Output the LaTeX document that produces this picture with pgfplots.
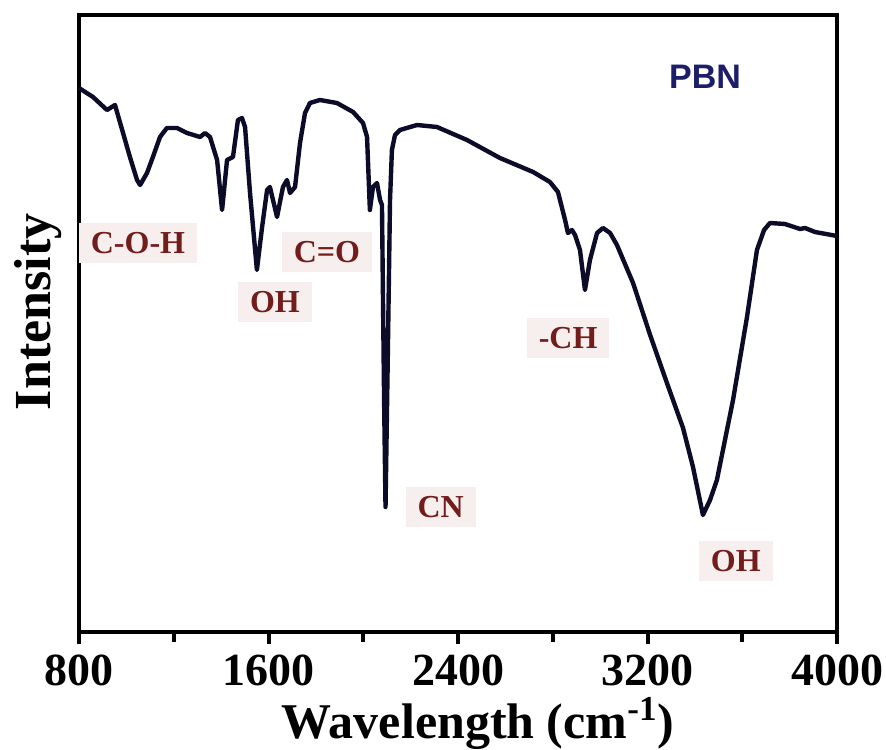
\documentclass[border=0pt]{standalone}
\usepackage{fontspec}
\setmainfont{Liberation Serif}
\newfontfamily\pbnfont{Liberation Sans}
\usepackage{pgfplots}
\pgfplotsset{compat=1.18}
\definecolor{curve}{RGB}{12,12,40}
\definecolor{lblred}{RGB}{115,28,28}
\definecolor{lblbg}{RGB}{247,238,238}
\definecolor{navy}{RGB}{28,30,105}
\begin{document}
\begin{tikzpicture}
\path[use as bounding box] (-39.5pt,-58.5pt) rectangle (403.5pt,316pt);
\begin{axis}[
  at={(0,0)}, anchor=south west,
  scale only axis, width=379pt, height=308.5pt,
  xmin=800, xmax=4000, ymin=0, ymax=617,
  axis line style={line width=2.4pt},
  xtick={800,1600,2400,3200,4000},
  minor xtick={1200,2000,2800,3600},
  ytick=\empty,
  xtick pos=bottom, tick align=outside,
  major tick length=6pt, minor tick length=5pt,
  every tick/.style={line width=2pt, black},
  /pgf/number format/assume math mode=true,
  /pgf/number format/1000 sep={},
  xticklabel style={font=\fontsize{23}{23}\selectfont\bfseries, yshift=-2pt},
  xlabel={Wavelength (cm\textsuperscript{-1})},
  xlabel style={font=\fontsize{25}{25}\selectfont\bfseries, at={(axis description cs:0.5,0)}, anchor=base, yshift=-53.3pt, xshift=10pt},
  ylabel={Intensity},
  ylabel style={font=\fontsize{26}{26}\selectfont\bfseries, at={(axis description cs:-0.038,0.519)}, anchor=base},
  clip=false,
]
\addplot[color=curve, line width=2.2pt, line join=round] coordinates {
(800,544) (813,542) (859,535) (918,522) (952,527) (1015,475) (1045,452) (1058,447)
(1087,459) (1112,475) (1142,495) (1171,504) (1214,504) (1256,499) (1311,495)
(1332,499) (1353,495) (1383,472) (1404,422) (1425,472) (1450,475) (1471,512)
(1488,514) (1501,505) (1522,439) (1551,362) (1573,405) (1594,442) (1606,445)
(1636,415) (1661,445) (1678,452) (1691,439) (1712,445) (1733,489) (1754,519)
(1775,529) (1817,532) (1889,529) (1957,520) (1999,509) (2016,495) (2028,422)
(2041,445) (2058,449) (2071,432) (2079,427) (2088,232) (2094,125) (2104,282)
(2113,432) (2121,482) (2134,497) (2155,502) (2227,507) (2311,505) (2438,492)
(2577,474) (2717,460) (2788,450) (2822,440) (2852,412) (2864,399) (2881,402)
(2894,397) (2915,382) (2936,342) (2957,372) (2987,399) (3012,404) (3042,399)
(3071,387) (3139,349) (3211,297) (3282,249) (3350,204) (3392,165) (3434,117)
(3464,132) (3493,152) (3561,232) (3620,315) (3662,382) (3692,402) (3717,409)
(3780,408) (3844,403) (3865,404) (3907,400) (4000,396)
};
\tikzset{lbl/.style={fill=lblbg, text=lblred, inner xsep=6pt, inner ysep=4.5pt, font=\fontsize{16}{16}\selectfont\bfseries}}
\node[lbl] at (axis cs:1049,389) {C-O-H};
\node[lbl] at (axis cs:1627,330) {OH};
\node[lbl] at (axis cs:1847,380) {C=O};
\node[lbl] at (axis cs:2327,125) {CN};
\node[lbl] at (axis cs:2865,294) {-CH};
\node[lbl] at (axis cs:3573,71) {OH};
\node[text=navy, font=\fontsize{17}{17}\selectfont\pbnfont\bfseries] at (axis cs:3443,555) {PBN};
\end{axis}
\end{tikzpicture}
\end{document}
